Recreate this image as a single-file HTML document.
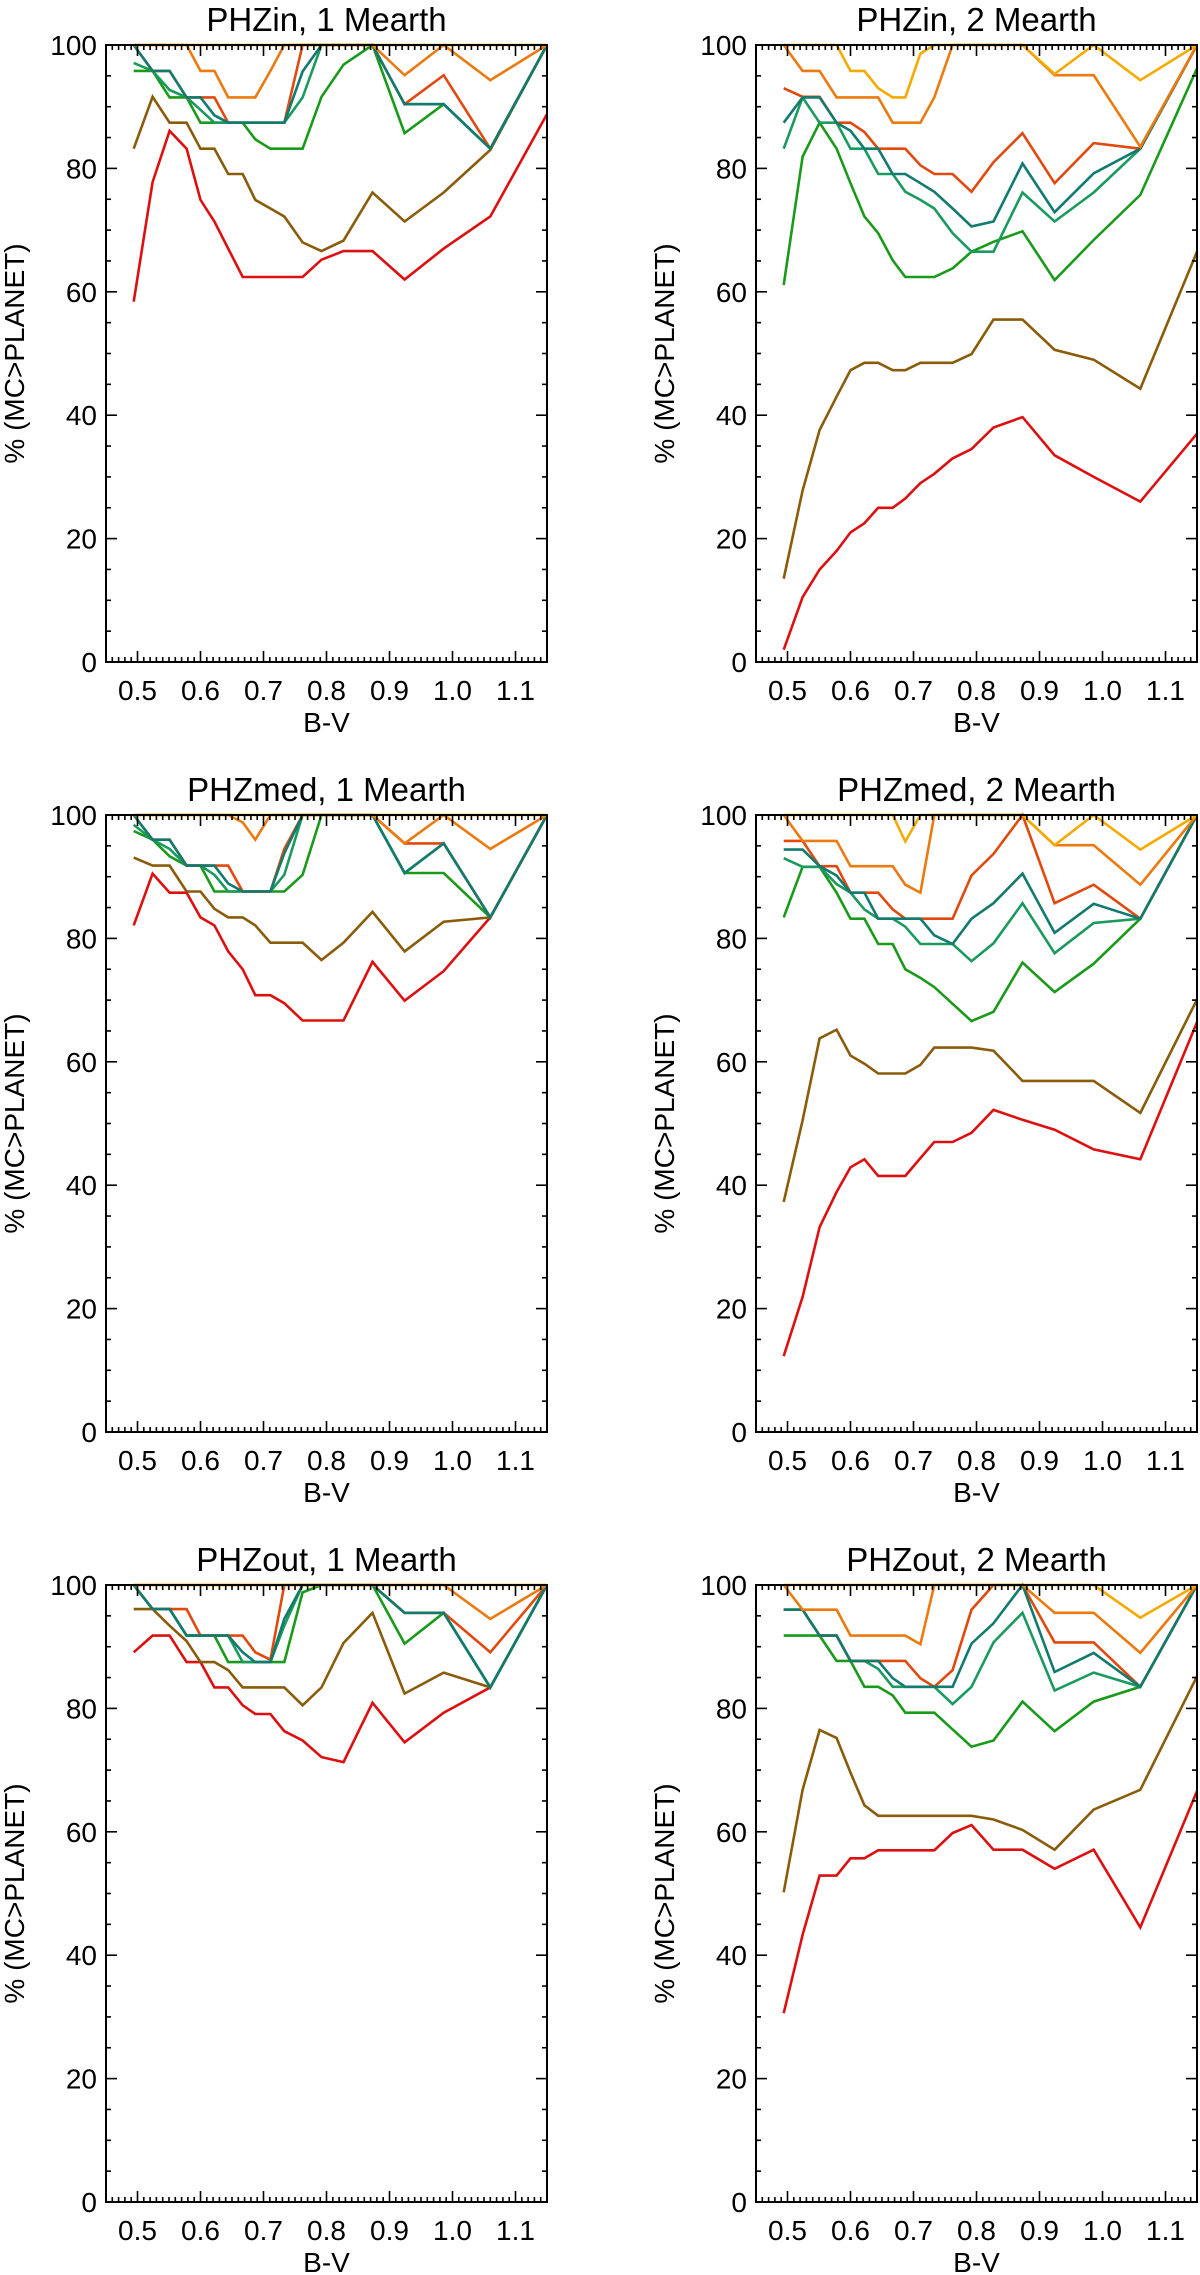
<!DOCTYPE html>
<html><head><meta charset="utf-8">
<style>
html,body{margin:0;padding:0;background:#fff;}
svg{display:block;font-family:"Liberation Sans",Arial,sans-serif;}
</style></head>
<body>
<svg id="fig" width="1200" height="2275" viewBox="0 0 1200 2275" xmlns="http://www.w3.org/2000/svg"></svg>
<script>
// Shared B-V sample points
const bv = [0.494,0.524,0.551,0.578,0.600,0.622,0.644,0.667,0.687,0.711,0.733,0.762,0.792,0.827,0.873,0.924,0.986,1.060,1.150];
const seriesNames = ["red","brown","green","seagreen","redorange","teal","orange","yellow"];
const seriesColors = ["#dd1010","#8a5c0a","#1a9a1a","#1a9a5e","#e04a0e","#127a6e","#eb7a10","#f5aa00"];
const titles = ["PHZin, 1 Mearth","PHZin, 2 Mearth","PHZmed, 1 Mearth","PHZmed, 2 Mearth","PHZout, 1 Mearth","PHZout, 2 Mearth"];
const xTicks = [0.5,0.6,0.7,0.8,0.9,1.0,1.1];
const xTickLabels = ["0.5","0.6","0.7","0.8","0.9","1.0","1.1"];
const yTicks = [0,20,40,60,80,100];
const yTickLabels = ["0","20","40","60","80","100"];

// Panel 1: PHZin, 1 Mearth
const p1red = [58.4,77.8,86.1,83.2,74.9,71.4,67,62.4,62.4,62.4,62.4,62.4,65.2,66.6,66.6,62,67,72.2,88.8];
const p1brown = [83.2,91.6,87.4,87.4,83.2,83.2,79.1,79.1,74.9,73.5,72.2,68,66.6,68.3,76.1,71.4,76.1,83,100];
const p1green = [95.8,95.8,91.5,91.5,87.4,87.4,87.4,87.4,84.7,83.2,83.2,83.2,91.6,96.8,100,85.7,90.4,83.2,100];
const p1seagreen = [97.1,95.8,92.7,91.5,89.5,87.4,87.4,87.4,87.4,87.4,87.4,91.5,100,100,100,90.4,90.4,83.2,100];
const p1redorange = [100,95.8,95.8,91.5,91.5,91.5,87.4,87.4,87.4,87.4,87.4,100,100,100,100,90.4,95.1,83.2,100];
const p1teal = [100,95.8,95.8,91.5,91.5,88.6,87.4,87.4,87.4,87.4,87.4,95.7,100,100,100,90.4,90.4,83.2,100];
const p1orange = [100,100,100,100,95.8,95.8,91.5,91.5,91.5,95.8,100,100,100,100,100,95.1,100,94.3,100];
const p1yellow = [100,100,100,100,100,100,100,100,100,100,100,100,100,100,100,100,100,100,100];

// Panel 2: PHZin, 2 Mearth
const p2red = [2,10.5,15,18,21,22.5,25,25,26.5,29,30.5,33,34.5,38,39.7,33.5,30,26,37];
const p2brown = [13.5,27.8,37.6,43,47.3,48.5,48.5,47.3,47.3,48.5,48.5,48.5,49.9,55.5,55.5,50.6,49,44.3,66.5];
const p2green = [61.1,81.9,87.4,83.2,77.6,72.2,69.5,65.1,62.4,62.4,62.4,63.8,66.5,68.1,69.8,61.9,68.4,75.7,96.2];
const p2seagreen = [83.2,91.5,87.4,87.4,83.2,83.2,79.1,79.1,76.2,74.9,73.5,69.5,66.5,66.5,76.1,71.4,76.1,83.2,100];
const p2redorange = [93,91.6,91.6,87.4,87.4,85.9,83.2,83.2,83.2,80.5,79.1,79.1,76.2,81,85.7,77.6,84.1,83.2,100];
const p2teal = [87.4,91.5,91.5,87.4,86.1,83.2,83.2,79.1,79.1,77.6,76.2,73.5,70.6,71.4,80.8,72.9,79.2,83.2,100];
const p2orange = [100,95.8,95.8,91.5,91.5,91.5,91.5,87.4,87.4,87.4,91.5,100,100,100,100,95.1,95.1,83.5,100];
const p2yellow = [100,100,100,100,95.8,95.8,93,91.5,91.5,98.6,100,100,100,100,100,95.3,100,94.3,100];

// Panel 3: PHZmed, 1 Mearth
const p3red = [82.1,90.5,87.4,87.4,83.4,82.1,77.9,75,70.8,70.8,69.5,66.7,66.7,66.7,76.2,69.9,74.7,83.4,100];
const p3brown = [93.1,91.8,91.8,87.6,87.6,84.8,83.4,83.4,82.1,79.3,79.3,79.3,76.5,79.3,84.3,77.9,82.7,83.4,100];
const p3green = [97.4,96,93.3,91.8,91.8,87.6,87.6,87.6,87.6,87.6,87.6,90.3,100,100,100,90.6,90.6,83.4,100];
const p3seagreen = [98.4,96,94.5,91.8,91.8,90.3,87.6,87.6,87.6,87.6,90.3,100,100,100,100,90.6,95.4,83.4,100];
const p3redorange = [100,96,96,91.8,91.8,91.8,91.8,87.6,87.6,87.6,94.5,100,100,100,100,95.4,95.4,83.4,100];
const p3teal = [100,96,96,91.8,91.8,91.8,88.9,87.6,87.6,87.6,93.8,100,100,100,100,90.6,95.4,83.4,100];
const p3orange = [100,100,100,100,100,100,100,98.8,96,100,100,100,100,100,100,95.4,100,94.5,100];
const p3yellow = [100,100,100,100,100,100,100,100,100,100,100,100,100,100,100,100,100,100,100];

// Panel 4: PHZmed, 2 Mearth
const p4red = [12.3,21.9,33.2,38.9,42.9,44.2,41.5,41.5,41.5,44.4,47,47,48.5,52.2,50.6,49,45.8,44.2,66.4];
const p4brown = [37.3,50.5,63.8,65.2,61,59.7,58.1,58.1,58.1,59.5,62.3,62.3,62.3,61.8,56.9,56.9,56.9,51.7,70.1];
const p4green = [83.4,91.6,91.6,87.4,83.2,83.2,79.1,79.1,75,73.6,72.1,69.4,66.6,68.1,76.1,71.3,75.9,83.2,100];
const p4seagreen = [93,91.6,91.6,88.8,87.4,84.7,83.2,83.2,81.9,79.1,79.1,79.1,76.3,79.2,85.7,77.6,82.5,83.2,100];
const p4redorange = [95.8,95.8,91.7,91.7,87.4,87.4,87.4,84.7,83.2,83.2,83.2,83.2,90.2,93.7,100,85.7,88.7,83.2,100];
const p4teal = [94.4,94.4,91.7,90.2,87.4,87.4,83.2,83.2,83.2,83.2,80.5,79.1,83.2,85.7,90.5,80.9,85.6,83.2,100];
const p4orange = [100,95.8,95.8,95.8,91.7,91.7,91.7,91.7,88.7,87.4,100,100,100,100,100,95.1,95.1,88.7,100];
const p4yellow = [100,100,100,100,100,100,100,100,95.7,100,100,100,100,100,100,95.1,100,94.4,100];

// Panel 5: PHZout, 1 Mearth
const p5red = [89.1,91.8,91.8,87.5,87.5,83.4,83.4,80.5,79.1,79.1,76.3,74.8,72.1,71.3,80.9,74.5,79.3,83.4,100];
const p5brown = [96.1,96.1,93.4,90.9,87.5,87.5,86.2,83.4,83.4,83.4,83.4,80.5,83.4,90.6,95.5,82.4,85.8,83.4,100];
const p5green = [100,96.1,96.1,91.8,91.8,91.8,87.5,87.5,87.5,87.5,87.5,98.8,100,100,100,90.5,95.5,83.4,100];
const p5seagreen = [100,96.1,96.1,91.8,91.8,91.8,91.8,87.5,87.5,87.5,93.4,100,100,100,100,95.5,95.5,83.4,100];
const p5redorange = [100,96.1,96.1,96.1,91.8,91.8,91.8,91.8,89.1,87.9,100,100,100,100,100,95.5,95.5,89.1,100];
const p5teal = [100,96.1,96.1,91.8,91.8,91.8,91.8,89.1,87.5,87.5,94.5,100,100,100,100,95.5,95.5,83.4,100];
const p5orange = [100,100,100,100,100,100,100,100,100,100,100,100,100,100,100,100,100,94.5,100];
const p5yellow = [100,100,100,100,100,100,100,100,100,100,100,100,100,100,100,100,100,100,100];

// Panel 6: PHZout, 2 Mearth
const p6red = [30.6,43.3,52.9,52.9,55.7,55.7,57,57,57,57,57,59.8,61.1,57.1,57.1,54,57.1,44.5,66.6];
const p6brown = [50.2,66.8,76.5,75.2,69.6,64.3,62.6,62.6,62.6,62.6,62.6,62.6,62.6,62,60.3,57.1,63.6,66.8,85.2];
const p6green = [91.8,91.8,91.8,87.7,87.7,83.5,83.5,82.1,79.3,79.3,79.3,76.6,73.8,74.8,81.1,76.3,81.1,83.5,100];
const p6seagreen = [96,96,91.8,91.8,87.7,87.7,86.4,83.5,83.5,83.5,83.5,80.7,83.5,90.7,95.5,82.9,85.8,83.5,100];
const p6redorange = [96,96,91.8,91.8,87.7,87.7,87.7,87.7,87.7,84.9,83.5,86.2,96,100,100,90.7,90.7,83.5,100];
const p6teal = [96,96,91.8,91.8,87.7,87.7,87.7,84.9,83.5,83.5,83.5,83.5,90.5,93.8,100,85.9,89,83.5,100];
const p6orange = [100,96,96,96,91.8,91.8,91.8,91.8,91.8,90.4,100,100,100,100,100,95.5,95.5,89,100];
const p6yellow = [100,100,100,100,100,100,100,100,100,100,100,100,100,100,100,100,100,94.7,100];

const panelData = [
  [p1red,p1brown,p1green,p1seagreen,p1redorange,p1teal,p1orange,p1yellow],
  [p2red,p2brown,p2green,p2seagreen,p2redorange,p2teal,p2orange,p2yellow],
  [p3red,p3brown,p3green,p3seagreen,p3redorange,p3teal,p3orange,p3yellow],
  [p4red,p4brown,p4green,p4seagreen,p4redorange,p4teal,p4orange,p4yellow],
  [p5red,p5brown,p5green,p5seagreen,p5redorange,p5teal,p5orange,p5yellow],
  [p6red,p6brown,p6green,p6seagreen,p6redorange,p6teal,p6orange,p6yellow]
];

const NS = "http://www.w3.org/2000/svg";
const svg = document.getElementById("fig");
function mk(tag, attrs, parent){
  const e = document.createElementNS(NS, tag);
  for (const k in attrs) e.setAttribute(k, attrs[k]);
  parent.appendChild(e);
  return e;
}
const colL = [106, 756];
const rowT = [45, 815, 1585];
const PW = 441, PH = 617;
const XMIN = 0.45, XMAX = 1.15, YMIN = 0, YMAX = 100;

for (let p = 0; p < 6; p++) {
  const L = colL[p % 2], T = rowT[Math.floor(p / 2)], R = L + PW, B = T + PH;
  const xs = v => L + (v - XMIN) / (XMAX - XMIN) * PW;
  const ys = v => B - (v - YMIN) / (YMAX - YMIN) * PH;
  const g = mk("g", {}, svg);
  
  

  const title = mk("text", {x: (L + R) / 2, y: T - 14, "font-size": 33, "text-anchor": "middle", fill: "#000"}, g);
  title.textContent = titles[p];
  
  

  const lines = mk("g", {}, g);
  
  
  const data = panelData[p];
  for (let s = 0; s < data.length; s++) {
    const pts = data[s].map((v, i) => xs(bv[i]).toFixed(1) + "," + ys(v).toFixed(1)).join(" ");
    const pl = mk("polyline", {points: pts, fill: "none", stroke: seriesColors[s], "stroke-width": 2.6, "stroke-linejoin": "miter", "stroke-miterlimit": 3}, lines);
    
    
  }

  const tk = mk("g", {stroke: "#000", "stroke-width": 1.6}, g);
  
  
  for (let v = 0; v <= 100; v += 5) {
    const len = (v % 20 === 0) ? 11 : 5;
    const y = ys(v);
    mk("line", {x1: L, y1: y, x2: L + len, y2: y}, tk);
    mk("line", {x1: R, y1: y, x2: R - len, y2: y}, tk);
  }
  for (let k = 46; k <= 115; k++) {
    const v = k / 100;
    const len = (k % 10 === 0) ? 11 : 5;
    const x = xs(v);
    mk("line", {x1: x, y1: B, x2: x, y2: B - len}, tk);
    mk("line", {x1: x, y1: T, x2: x, y2: T + len}, tk);
  }
  const frame = mk("rect", {x: L, y: T, width: PW, height: PH, fill: "none", stroke: "#000", "stroke-width": 2}, g);
  
  

  for (let i = 0; i < yTicks.length; i++) {
    const t = mk("text", {x: L - 9, y: ys(yTicks[i]) + 10, "font-size": 28, "text-anchor": "end", fill: "#000"}, g);
    t.textContent = yTickLabels[i];
    
    
  }
  for (let i = 0; i < xTicks.length; i++) {
    const t = mk("text", {x: xs(xTicks[i]), y: B + 38, "font-size": 28, "text-anchor": "middle", fill: "#000"}, g);
    t.textContent = xTickLabels[i];
    
    
  }
  const xt = mk("text", {x: (L + R) / 2, y: B + 70, "font-size": 28, "text-anchor": "middle", fill: "#000"}, g);
  xt.textContent = "B-V";
  
  
  const yx = L - 82, yy = (T + B) / 2;
  const yt = mk("text", {x: yx, y: yy, "font-size": 28, "text-anchor": "middle", fill: "#000", transform: "rotate(-90 " + yx + " " + yy + ")"}, g);
  yt.textContent = "% (MC>PLANET)";
  
  
}
</script>
</body></html>
